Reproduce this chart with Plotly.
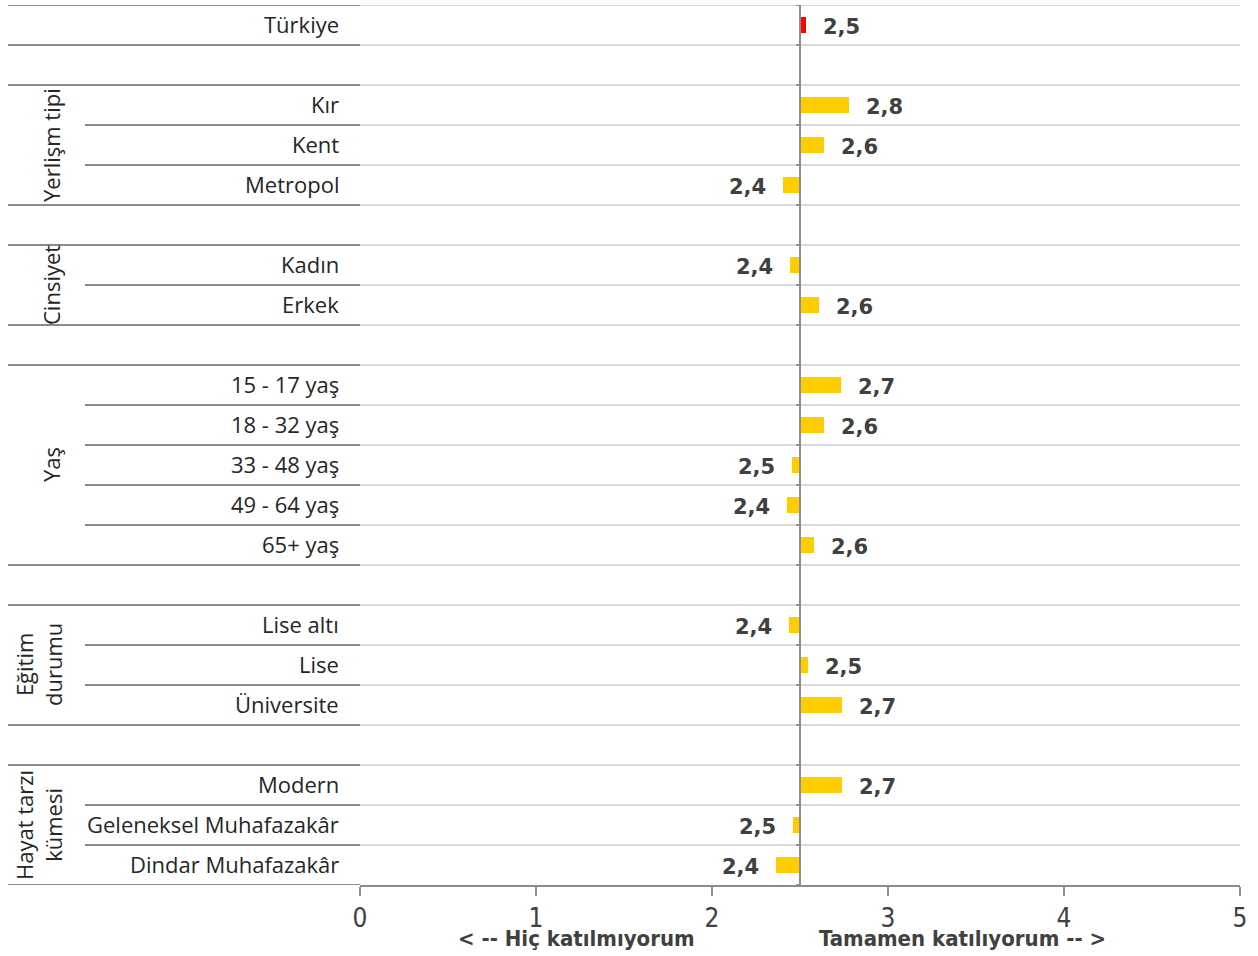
import plotly.graph_objects as go

# ---------------- data ----------------
group_names = ["", "Yerlişm tipi", "Cinsiyet", "Yaş", "Eğitim<br>durumu", "Hayat tarzı<br>kümesi"]
group_items = [
    ["Türkiye"],
    ["Kır", "Kent", "Metropol"],
    ["Kadın", "Erkek"],
    ["15 - 17 yaş", "18 - 32 yaş", "33 - 48 yaş", "49 - 64 yaş", "65+ yaş"],
    ["Lise altı", "Lise", "Üniversite"],
    ["Modern", "Geleneksel Muhafazakâr", "Dindar Muhafazakâr"],
]
group_values = [
    [2.534],
    [2.778, 2.638, 2.403],
    [2.443, 2.608],
    [2.731, 2.638, 2.452, 2.428, 2.58],
    [2.436, 2.544, 2.737],
    [2.739, 2.462, 2.362],
]
midpoint = 2.5
x_ticks = [0, 1, 2, 3, 4, 5]
left_title = "< -- Hiç katılmıyorum"
right_title = "Tamamen katılıyorum -- >"

# ---------------- layout constants ----------------
W, H = 1258, 956
ML, MR, MT, MB = 360, 18, 5, 71
plot_w = W - ML - MR
RED = "#ff0000"
YELLOW = "#ffcc00"
DARK = "#262626"
LBL = "#404040"
LINE_DARK = "#8c8c8c"
LINE_LIGHT = "#d9d9d9"


def px_to_paper(px):
    return (px - ML) / plot_w


# build rows (with blank spacer rows between groups)
rows_y, rows_label, rows_val, rows_color = [], [], [], []
group_spans = []
r = 0
for gi, (items, vals) in enumerate(zip(group_items, group_values)):
    if gi > 0:
        r += 1  # blank spacer row
    start = r
    for it, v in zip(items, vals):
        rows_y.append(r)
        rows_label.append(it)
        rows_val.append(v)
        rows_color.append(RED if gi == 0 else YELLOW)
        r += 1
    group_spans.append((start, r - 1))
n_rows = r

fig = go.Figure()
fig.add_trace(go.Bar(
    y=rows_y,
    x=[v - midpoint for v in rows_val],
    base=midpoint,
    orientation="h",
    width=0.4,
    marker=dict(color=rows_color, line=dict(width=0)),
    hoverinfo="skip",
    showlegend=False,
))

shapes = []
annotations = []

# horizontal row lines
group_bounds = set()
for s, e in group_spans:
    group_bounds.add(s - 0.5)
    group_bounds.add(e + 0.5)
for k in range(n_rows + 1):
    yb = k - 0.5
    if yb in group_bounds:
        x0 = px_to_paper(8)
    elif any(s - 0.5 < yb < e + 0.5 for s, e in group_spans):
        x0 = px_to_paper(85)
    else:
        x0 = px_to_paper(8)
    shapes.append(dict(type="line", xref="paper", yref="y", x0=x0, x1=0, y0=yb, y1=yb,
                       line=dict(color=LINE_DARK, width=2), layer="above"))
    if k < n_rows:
        shapes.append(dict(type="line", xref="paper", yref="y", x0=0, x1=1, y0=yb, y1=yb,
                           line=dict(color=LINE_LIGHT, width=2), layer="below"))
    # small tick on the midpoint axis
    shapes.append(dict(type="line", xref="x", yref="y", x0=midpoint - 0.022, x1=midpoint,
                       y0=yb, y1=yb, line=dict(color=LINE_DARK, width=2), layer="above"))

# midpoint vertical axis
shapes.append(dict(type="line", xref="x", yref="y", x0=midpoint, x1=midpoint,
                   y0=-0.5, y1=n_rows - 0.5, line=dict(color=LINE_DARK, width=2), layer="above"))

# row labels
for y, lab in zip(rows_y, rows_label):
    annotations.append(dict(xref="paper", yref="y", x=0, y=y, xanchor="right", yanchor="middle",
                            xshift=-19, yshift=1, text=lab, showarrow=False,
                            font=dict(family="Open Sans", size=22, color=DARK)))

# value labels
for y, v in zip(rows_y, rows_val):
    txt = f"{v:.1f}".replace(".", ",")
    pos = v >= midpoint
    annotations.append(dict(xref="x", yref="y", x=v, y=y,
                            xanchor="left" if pos else "right", yanchor="middle",
                            xshift=15 if pos else -15, yshift=-2,
                            text=f"<b>{txt}</b>", showarrow=False,
                            font=dict(family="DejaVu Sans", size=21, color=LBL)))

# group labels (rotated)
for name, (s, e) in zip(group_names, group_spans):
    if not name:
        continue
    two = "<br>" in name
    annotations.append(dict(xref="paper", yref="y", x=px_to_paper(38 if two else 51), y=(s + e) / 2,
                            xanchor="center", yanchor="middle", text=name, textangle=-90,
                            showarrow=False,
                            font=dict(family="Open Sans", size=22, color=DARK)))

# bottom axis titles
cond = "Liberation Sans Narrow, DejaVu Sans Condensed, Arial Narrow, Open Sans, sans-serif"
title_y = (885 - 939) / (H - MT - MB)
annotations.append(dict(xref="x", yref="paper", x=midpoint, y=title_y,
                        xanchor="right", yanchor="middle", xshift=-103,
                        text=f"<b>{left_title}</b>", showarrow=False,
                        font=dict(family=cond, size=22, color=LBL)))
annotations.append(dict(xref="x", yref="paper", x=midpoint, y=title_y,
                        xanchor="left", yanchor="middle", xshift=17,
                        text=f"<b>{right_title}</b>", showarrow=False,
                        font=dict(family=cond, size=22, color=LBL)))

fig.update_layout(
    width=W, height=H,
    margin=dict(l=ML, r=MR, t=MT, b=MB, pad=0),
    paper_bgcolor="white", plot_bgcolor="white",
    shapes=shapes, annotations=annotations,
    bargap=0,
    xaxis=dict(range=[0, 5], tickvals=x_ticks, ticktext=[str(t) for t in x_ticks],
               showgrid=False, zeroline=False, showline=True, linecolor=LINE_DARK, linewidth=2,
               ticks="outside", ticklen=9, tickwidth=1.5, tickcolor=LINE_DARK,
               tickfont=dict(family=cond, size=26, color=LBL), fixedrange=True),
    yaxis=dict(range=[n_rows - 0.5, -0.5], showticklabels=False, showgrid=False,
               zeroline=False, showline=False, ticks="", fixedrange=True),
)

fig.write_html("out.html", config={"displayModeBar": False},
               post_script="document.body.style.margin='0';document.body.style.padding='0';")
